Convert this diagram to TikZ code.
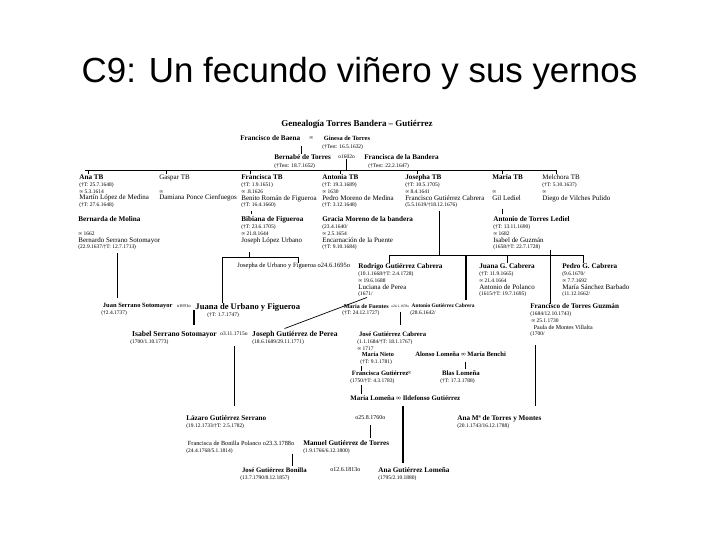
\documentclass[tikz,border=0pt]{standalone}
\usepackage{fontspec}
\setmainfont{Liberation Serif}
\newfontfamily\titlefont{Liberation Sans}
\newcommand{\pname}[1][7.2]{\fontsize{#1}{6.8}\selectfont\bfseries}
\newcommand{\sname}[1][7]{\fontsize{#1}{6.8}\selectfont}

\begin{document}
\begin{tikzpicture}[x=1bp, y=-1bp, line width=0.7bp,
        person/.style={anchor=north west, inner sep=0pt, align=left,
            font={\fontsize{5.5}{6.8}\selectfont\lineskiplimit=-20pt}},
        wed/.style={anchor=west, inner sep=0pt, font=\fontsize{5.5}{6}\selectfont},
        thk/.style={line width=1.4bp}]
        \fill[white] (0,0) rectangle (720,540);
        \useasboundingbox (0,0) rectangle (720,540);

        \node[anchor=base, inner sep=0pt, font=\titlefont\fontsize{35}{40}\selectfont] (title) at (359.5,83) {C9: Un fecundo viñero y sus yernos};
        \node[anchor=base, inner sep=0pt, font=\fontsize{9}{10}\selectfont\bfseries] (head) at (357,127) {Genealogía Torres Bandera – Gutiérrez};

        % first generations
        \node[wed] (baena) at (240,138) {\pname Francisco de Baena};
        \node[wed] (w0) at (309,138) {∞};
        \node[person] (ginesa) at (322,135.5) {{\pname[6.4] Ginesa de Torres}\\[1.2bp](†Test: 16.5.1632)};
        \node[person] (bernabe) at (274,154.5) {{\pname Bernabé de Torres}\\[1.2bp](†Test: 18.7.1652)};
        \node[wed] (w1602) at (338,157) {o1602o};
        \node[person] (bandera) at (364,154.5) {{\pname Francisca de la Bandera}\\[1.2bp]\hspace*{4bp}(†Test: 22.2.1647)};

        % children
        \node[person] (ana) at (79,174.5) {{\pname Ana TB}\\(†T: 25.7.1648)\\∞ 5.3.1614\\{\sname Martín López de Medina}\\(†T: 27.6.1648)};
        \node[person] (gaspar) at (159,174.5) {{\sname Gaspar TB}\\\mbox{}\\∞\\{\sname Damiana Ponce Cienfuegos}};
        \node[person] (franc) at (241,174.5) {{\pname Francisca TB}\\(†T: 1.9.1651)\\∞ .8.1626\\{\sname Benito Román de Figueroa}\\(†T: 16.4.1660)};
        \node[person] (anton) at (322,174.5) {{\pname Antonia TB}\\(†T: 19.3.1689)\\∞ 1630\\{\sname Pedro Moreno de Medina}\\(†T: 3.12.1648)};
        \node[person] (josepha) at (405,174.5) {{\pname Josepha TB}\\(†T: 10.5.1705)\\∞ 8.4.1641\\{\sname Francisco Gutiérrez Cabrera}\\(5.5.1619/†18.12.1676)};
        \node[person] (maria) at (492,174.5) {{\pname María TB}\\\mbox{}\\∞\\{\sname Gil Lediel}};
        \node[person] (melchora) at (542,174.5) {{\sname Melchora TB}\\(†T: 5.10.1637)\\∞\\{\sname Diego de Vilches Pulido}};

        \node[person] (bernarda) at (78,216.5) {{\pname Bernarda de Molina}\\\mbox{}\\∞ 1662\\{\sname Bernardo Serrano Sotomayor}\\(22.9.1637/†T: 12.7.1713)};
        \node[person] (bibiana) at (241,216.5) {{\pname Bibiana de Figueroa}\\(†T: 23.6.1705)\\∞ 21.8.1644\\{\sname Joseph López Urbano}};
        \node[person] (gracia) at (322,216.5) {{\pname Gracia Moreno de la bandera}\\(23.4.1640/\\∞ 2.5.1654\\{\sname Encarnación de la Puente}\\(†T: 9.10.1684)};
        \node[person] (ledesma) at (493,216.5) {{\pname Antonio de Torres Lediel}\\(†T: 13.11.1690)\\∞ 1682\\{\sname Isabel de Guzmán}\\(1658/†T: 22.7.1728)};

        % grandchildren
        \node[wed, font=\fontsize{6.5}{7}\selectfont] (urbano) at (237,266) {Josepha de Urbano y Figueroa o24.6.1695o};
        \node[person] (rodrigo) at (358,263.5) {{\pname Rodrigo Gutiérrez Cabrera}\\(10.1.1668/†T: 2.4.1728)\\∞ 19.6.1688\\{\sname Luciana de Perea}\\(1671/};
        \node[person] (juanagc) at (479,263.5) {{\pname Juana G. Cabrera}\\(†T: 11.9.1665)\\∞ 21.4.1664\\{\sname Antonio de Polanco}\\(1615/†T: 19.7.1695)};
        \node[person] (pedro) at (562,263.5) {{\pname Pedro G. Cabrera}\\(9.6.1670/\\∞ 7.7.1692\\{\sname María Sánchez Barbado}\\(11.12.1662/};

        \node[person] (juan) at (101,303) {{\pname[6.5] Juan Serrano Sotomayor}\\[0.5bp](†2.4.1737)};
        \node[wed, font=\fontsize{4.6}{5}\selectfont] (w1691) at (176.5,306) {o1691o};
        \node[person] (juana) at (193,303) {{\pname[8.6] Juana de Urbano y Figueroa}\\[0.5bp]\hspace*{14bp}(†T: 1.7.1747)};
        \node[person] (fuentes) at (342,303.5) {{\pname[6] María de Fuentes}\\(†T: 24.12.1727)};
        \node[wed, font=\fontsize{3.6}{4}\selectfont] (w1678) at (391,306) {o24.1.1678o};
        \node[person] (antgc) at (410,303.5) {{\pname[5.4] Antonio Gutiérrez Cabrera}\\(28.6.1642/};
        \node[person] (ftg) at (530,303.5) {{\pname Francisco de Torres Guzmán}\\(1684/12.10.1743)\\\hspace*{1bp}∞ 25.1.1730\\\hspace*{2bp}{\sname[6] Paula de Montes Villalta}\\(1700/};

        \node[person] (isabel) at (130,331) {{\pname[7.6] Isabel Serrano Sotomayor}\\[0.5bp](1700/1.10.1773)};
        \node[wed] (w1715) at (220,334) {o3.11.1715o};
        \node[person] (joseph) at (250,331) {{\pname[7.6] Joseph Gutiérrez de Perea}\\[0.5bp]\hspace*{2bp}(18.6.1689/29.11.1771)};
        \node[person] (josegc) at (357,331.5) {{\pname[6.7] José Gutiérrez Cabrera}\\(1.1.1684/†T: 18.1.1767)\\∞ 1717\\\hspace*{3bp}{\pname[6.2] María Nieto}\\\hspace*{3bp}(†T: 9.1.1781)};

        \node[wed] (alonso) at (415,354) {\pname[6.6]Alonso Lomeña ∞ María Benchi};
        \node[person] (fgut) at (350,370.5) {{\pname[6.6] Francisca Gutiérrez}\\[0.3bp](1750/†T: 4.3.1783)};
        \node[wed] (w0b) at (407,373) {∞};
        \node[person] (blas) at (440,370.5) {{\pname[6.8] Blas Lomeña}\\[0.3bp](†T: 17.3.1788)};
        \node[wed] (lomena) at (350,398) {\pname[6.9]María Lomeña ∞ Ildefonso Gutiérrez};

        \node[person] (lazaro) at (186,415.5) {{\pname Lázaro Gutiérrez Serrano}\\[0.3bp](19.12.1733/†T: 2.5.1782)};
        \node[wed, font=\fontsize{6}{6}\selectfont] (w1760) at (355,418) {o25.8.1760o};
        \node[person] (anamt) at (457,415.5) {{\pname Ana Mª de Torres y Montes}\\[0.3bp](20.1.1743/16.12.1788)};

        \node[person] (bonilla) at (186,440.5) {{\sname[6.3] Francisca de Bonilla Polanco o23.3.1788o}\\[0.3bp](24.4.1768/5.1.1814)};
        \node[person] (manuel) at (303,440.5) {{\pname Manuel Gutiérrez de Torres}\\[0.3bp](1.9.1766/6.12.1800)};

        \node[person] (jgb) at (240,467.5) {{\pname[6.8] José Gutiérrez Bonilla}\\[0.3bp](13.7.1790/8.12.1857)};
        \node[wed, font=\fontsize{6}{6}\selectfont] (w1813) at (330,470) {o12.6.1813o};
        \node[person] (agl) at (378,467.5) {{\pname Ana Gutiérrez Lomeña}\\[0.3bp](1795/2.10.1880)};

        % connectors
        \coordinate (bar1L) at (85,170);
        \coordinate (bar1R) at (556,170);
        \coordinate (bar2L) at (222,257);
        \coordinate (bar2R) at (298,257);
        \coordinate (bar3L) at (389,255);
        \coordinate (bar3R) at (583,255);

        \draw[shorten <=5bp] ([xshift=61bp]baena.south west) -- ([xshift=61bp]baena.south west |- bernabe.north);
        \draw (w1602.south) -- (w1602.south |- bar1L);
        \draw (bar1L) -- (bar1R);
        \foreach \who/\dx in {ana/9bp, gaspar/7bp, franc/9bp, anton/18bp, josepha/12bp, maria/10bp, melchora/14bp}
            \draw ([xshift=\dx]\who.north west) -- ([xshift=\dx]\who.north west |- bar1L);

        \draw[shorten <=3bp, shorten >=2bp] ([xshift=10bp]franc.south west) -- ([xshift=10bp]franc.south west |- bibiana.north);
        \draw[shorten <=8bp, shorten >=2bp] ([xshift=10bp]maria.south west) -- ([xshift=10bp]maria.south west |- ledesma.north);

        \draw[shorten <=8bp] ([xshift=8bp]bibiana.south west) -- ([xshift=8bp]bibiana.south west |- bar2L);
        \draw (bar2L) -- (bar2R);
        \draw (bar2R) -- (bar2R |- urbano.north);
        \draw (bar2L) -- (bar2L |- juana.north);
        \draw[shorten <=3bp, shorten >=5bp] ([xshift=39bp]bernarda.south west) -- ([xshift=39bp]bernarda.south west |- juan.north);

        \draw[shorten <=3bp] ([xshift=34bp]josepha.south west) -- ([xshift=34bp]josepha.south west |- bar3L);
        \draw (bar3L) -- (bar3R);
        \foreach \who/\dx in {rodrigo/31bp, juanagc/28bp, pedro/21bp}
            \draw ([xshift=\dx]\who.north west) -- ([xshift=\dx]\who.north west |- bar3L);
        \draw[thk, shorten <=4bp] ([xshift=56bp]antgc.north west) -- ([xshift=56bp]antgc.north west |- bar3L);
        \draw ([xshift=57bp]ledesma.south west) -- ([xshift=57bp]ledesma.south west |- ftg.north);

        \draw[thk, shorten <=2bp, shorten >=6bp] ([xshift=3bp]w1691.south east) -- ([xshift=3bp]w1691.south east |- isabel.north);
        \draw[thk, shorten <=4bp, shorten >=7bp] (w1678.south) -- (w1678.south |- josegc.north);
        \draw[shorten >=7bp] ([xshift=9bp]rodrigo.south west) -- ([xshift=28bp]joseph.north west);

        \draw[shorten <=10bp, shorten >=10bp] (w1715.south) -- (w1715.south |- lazaro.north);
        \draw[shorten <=1bp] ([xshift=4bp]josegc.south west) -- ([xshift=4bp]josegc.south west |- fgut.north);
        \draw[shorten <=5bp, shorten >=2bp] ([xshift=50bp]alonso.south west) -- ([xshift=50bp]alonso.south west |- blas.north);
        \draw[shorten <=1bp, shorten >=1bp] ([xshift=11bp]fgut.south west) -- ([xshift=11bp]fgut.south west |- lomena.north);
        \draw[thk, shorten <=5bp, shorten >=5bp] ([xshift=53bp]lomena.south west) -- ([xshift=53bp]lomena.south west |- agl.north);
        \draw[shorten <=8bp, shorten >=10bp] ([xshift=5bp]ftg.south west) -- ([xshift=5bp]ftg.south west |- anamt.north);
        \draw[shorten <=5bp, shorten >=3bp] (w1760.south) -- (w1760.south |- manuel.north);
        \draw[shorten >=2bp] ([xshift=106bp]bonilla.south west) -- ([xshift=106bp]bonilla.south west |- jgb.north);
    \end{tikzpicture}
\end{document}
